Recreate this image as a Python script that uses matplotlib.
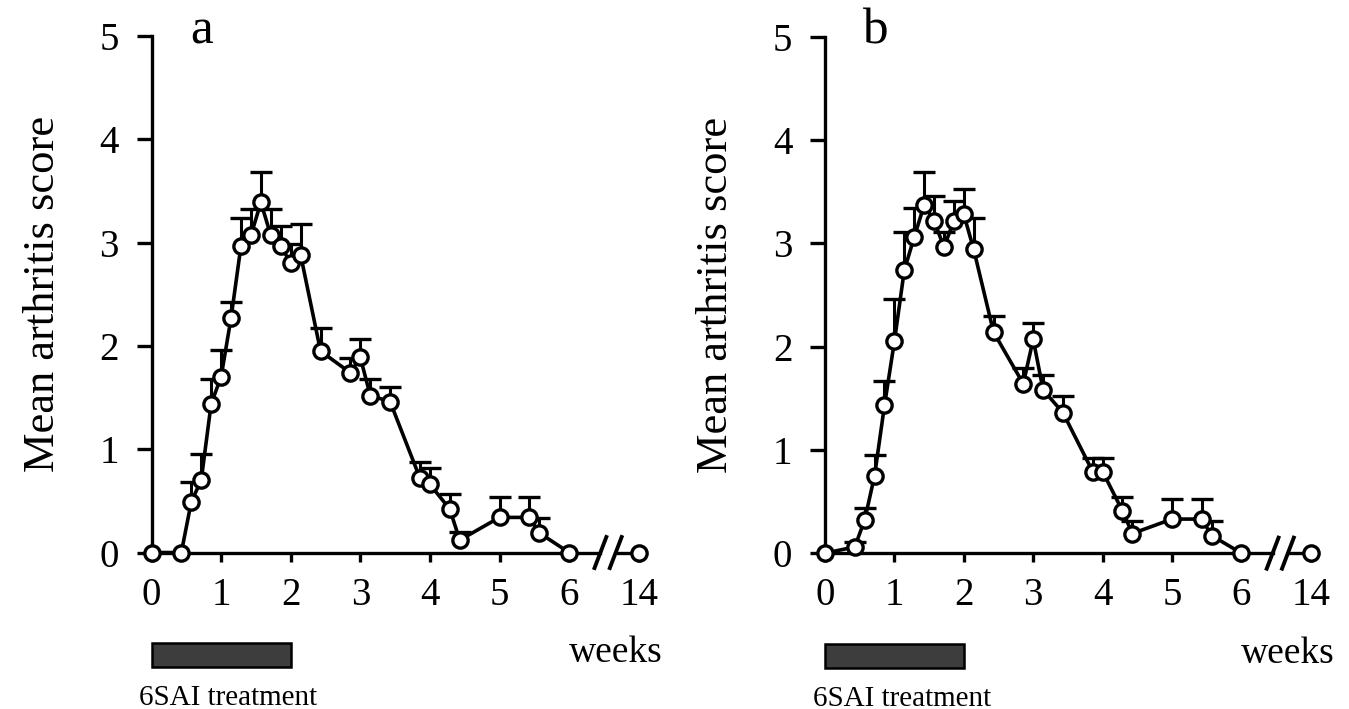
import numpy as np
import matplotlib
matplotlib.use("Agg")
import matplotlib.pyplot as plt
from matplotlib.patches import Rectangle

plt.rcParams['font.family'] = ['Liberation Serif', 'DejaVu Serif']

# ---- data (days after onset; converted to weeks for plotting) ----
days = [0, 3, 4, 5, 6, 7, 8, 9, 10, 11, 12, 13, 14, 15, 17, 20, 21, 22, 24,
        27, 28, 30, 31, 35, 38, 39, 42]

mean_a = [0, 0, 0.49, 0.70, 1.44, 1.70, 2.27, 2.97, 3.07, 3.39, 3.07, 2.97,
          2.80, 2.88, 1.95, 1.74, 1.89, 1.52, 1.46, 0.72, 0.66, 0.42, 0.12,
          0.34, 0.34, 0.19, 0]
sem_a = [0, 0, 0.19, 0.25, 0.24, 0.26, 0.16, 0.27, 0.26, 0.29, 0.26, 0.19,
         0.19, 0.30, 0.22, 0.14, 0.18, 0.16, 0.14, 0.16, 0.16, 0.15, 0.08,
         0.20, 0.20, 0.14, 0]

mean_b = [0, 0.06, 0.32, 0.75, 1.43, 2.05, 2.74, 3.06, 3.37, 3.22, 2.96, 3.22,
          3.28, 2.94, 2.14, 1.64, 2.07, 1.58, 1.36, 0.79, 0.79, 0.41, 0.19,
          0.33, 0.33, 0.17, 0]
sem_b = [0, 0.05, 0.12, 0.20, 0.24, 0.41, 0.37, 0.28, 0.32, 0.24, 0.15, 0.19,
         0.25, 0.30, 0.16, 0.15, 0.16, 0.14, 0.16, 0.13, 0.13, 0.13, 0.12,
         0.19, 0.19, 0.14, 0]

late_mean_a = 0   # week 14
late_mean_b = 0   # week 14

x_tick_labels = ['0', '1', '2', '3', '4', '5', '6', '14']
y_ticks = [0, 1, 2, 3, 4, 5]
treat_start, treat_end = 0, 2          # weeks of 6SAI treatment
panel_letters = ['a', 'b']

# ---- layout constants ----
LATE_POS = 7.0      # axis position used for week 14 (after the break)
XMAX = 7.12
BRK1, BRK2 = 6.45, 6.67
SPINE_LW = 2.4

fig = plt.figure(figsize=(13.49, 7.09), dpi=100)
fig.patch.set_facecolor('white')

axes_rects = [
    [151.5 / 1349, 0.2207, XMAX * 69.6 / 1349, 0.7285],
    [825.0 / 1349, 0.2198, XMAX * 69.4 / 1349, 0.7285],
]


def draw_panel(ax, mean, sem, late_mean, letter):
    weeks = np.array(days) / 7.0
    mean = np.array(mean)
    sem = np.array(sem)

    # upward error bars with caps
    m = sem > 0
    ax.vlines(weeks[m], mean[m], mean[m] + sem[m], color='black', lw=2.2,
              zorder=2)
    ax.plot(weeks[m], mean[m] + sem[m], ls='none', marker='_', ms=16,
            mew=2.4, color='black', zorder=2)

    # main line
    ax.plot(weeks, mean, '-o', color='black', lw=2.6, mfc='white',
            mec='black', ms=11, mew=2.4, zorder=3, clip_on=False)
    ax.plot([LATE_POS], [late_mean], 'o', color='black', mfc='white',
            mec='black', ms=11, mew=2.4, zorder=3, clip_on=False)

    ax.set_xlim(0, XMAX)
    ax.set_ylim(0, 5)

    for s in ['top', 'right']:
        ax.spines[s].set_visible(False)
    ax.spines['left'].set_linewidth(SPINE_LW)
    ax.spines['bottom'].set_linewidth(SPINE_LW)
    ax.spines['left'].set_bounds(0, 5)
    ax.spines['bottom'].set_bounds(0, BRK1)

    # axis stub after break, and break marks
    ax.plot([BRK2, XMAX], [0, 0], color='black', lw=SPINE_LW, clip_on=False,
            zorder=2, solid_capstyle='butt')
    for c in (BRK1, BRK2):
        ax.plot([c - 0.085, c + 0.085], [-0.15, 0.15], color='black',
                lw=2.8, clip_on=False, zorder=4)

    ax.set_xticks(list(range(7)) + [LATE_POS])
    ax.set_xticklabels(x_tick_labels)
    ax.set_yticks(y_ticks)
    ax.tick_params(axis='x', direction='out', length=6.5, width=SPINE_LW,
                   labelsize=28, pad=11)
    ax.tick_params(axis='y', direction='out', length=10.5, width=SPINE_LW,
                   labelsize=28, pad=13)

    ax.set_ylabel('Mean arthritis score', fontsize=32)
    ax.yaxis.set_label_coords(-89 / 495.6, 0.5)

    ax.text(0.72, 4.93, letter, fontsize=37, ha='center', va='baseline')

    tr = ax.get_xaxis_transform()
    ax.add_patch(Rectangle((treat_start, -0.2217), treat_end - treat_start,
                           0.0465, transform=tr, clip_on=False,
                           facecolor='#3d3d3d', edgecolor='black', lw=1.8))
    ax.text(-0.18, -0.295, '6SAI treatment', transform=tr, fontsize=21,
            ha='left', va='baseline')
    ax.text(7.35, -0.212, 'weeks', transform=tr, fontsize=27,
            ha='right', va='baseline')


series = [(mean_a, sem_a, late_mean_a), (mean_b, sem_b, late_mean_b)]
for rect, (mn, se, lm), letter in zip(axes_rects, series, panel_letters):
    ax = fig.add_axes(rect)
    ax.set_facecolor('none')
    draw_panel(ax, mn, se, lm, letter)

fig.savefig('out.png', dpi=100, facecolor='white')
